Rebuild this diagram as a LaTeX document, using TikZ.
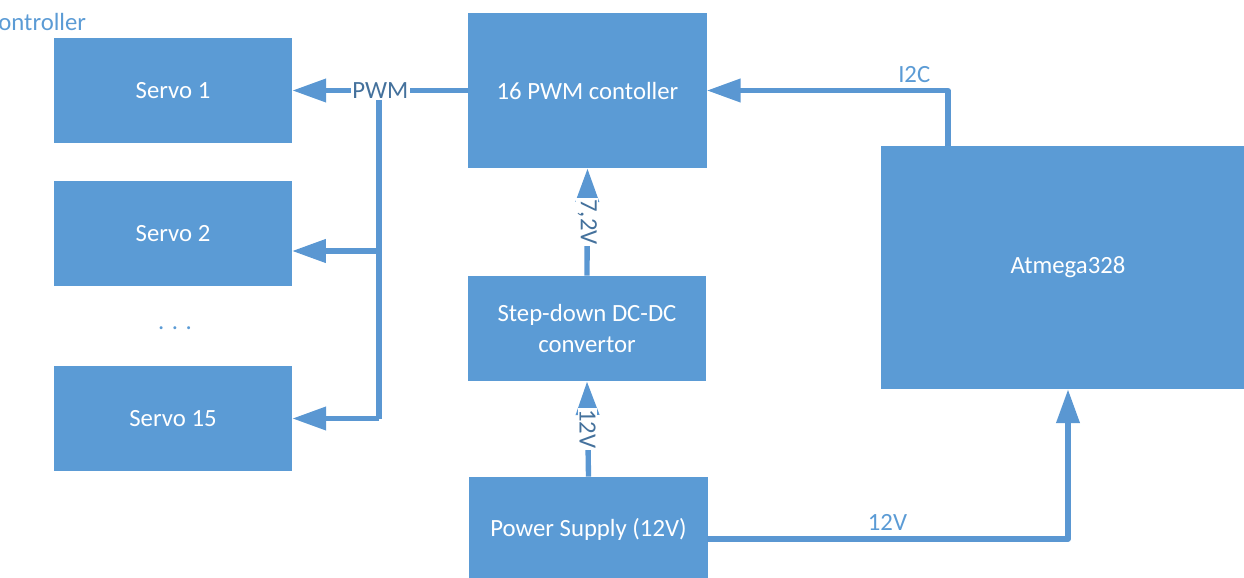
\documentclass[tikz,border=0pt]{standalone}
\usepackage{fontspec}
\setmainfont{Carlito}
\usetikzlibrary{arrows.meta}
\definecolor{boxblue}{HTML}{5B9BD5}
\definecolor{lineblue}{HTML}{5A97D2}
\definecolor{darkblue}{HTML}{44719C}
\tikzset{
  box/.style={fill=boxblue, text=white, align=center, inner sep=0pt, minimum width=5.95cm, minimum height=2.625cm, font=\fontsize{17.6}{22}\selectfont},
  kservo/.style={box}, kctrl/.style={box, minimum height=3.875cm},
  kpower/.style={box}, kmcu/.style={box, minimum width=9.35cm, minimum height=6.075cm},
  flow/.style={-{Triangle[length=24pt, width=16pt]}, line width=3.8pt, draw=lineblue, line join=round},
  wire/.style={line width=3.8pt, draw=lineblue, line join=round},
  lbl/.style={font=\fontsize{17.6}{22}\selectfont, text=darkblue, fill=white, inner sep=1pt},
  vlbl/.style={lbl, rotate=-90},
  hlbl/.style={font=\fontsize{17.6}{22}\selectfont, text=boxblue, inner sep=4pt},
}
\begin{document}
\begin{tikzpicture}[x=0.025cm, y=-0.025cm]
    \useasboundingbox (0,0) rectangle (1244,578);
    \node[hlbl, anchor=east] (title) at (92,22) {controller};
    \node[kservo] (servo1) at (173,90.5) {Servo 1};
    \node[kservo] (servo2) at (173,233.5) {Servo 2};
    \node[hlbl] (dots) at (175,328) {. . .};
    \node[kservo] (servo15) at (173,418.5) {Servo 15};
    \node[kctrl] (pwm) at (587.5,90.5) {16 PWM contoller};
    \node[kpower] (stepdown) at (587,328.5) {Step-down DC-DC\\convertor};
    \node[kpower] (power) at (588.5,529.5) {Power Supply (12V)};
    \node[kmcu] (atmega) at (1068,267.5) {Atmega328};
    \coordinate (branch) at (379,100);
    \coordinate (s2in) at (292,251);
    \coordinate (pwrout) at (707,539);
    \coordinate (i2cout) at (948,146);
    \draw[flow] (pwm.west) -- node[lbl]{PWM} (servo1.east);
    \draw[wire] (branch) -- (branch |- servo15.east);
    \draw[flow] (branch |- s2in) -- (s2in);
    \draw[flow] (branch |- servo15.east) -- (servo15.east);
    \draw[flow] (stepdown.north) -- node[vlbl]{7,2V} (pwm.south);
    \draw[flow] (power.north) -- node[vlbl]{12V} (stepdown.south);
    \draw[flow] (pwrout) -| (atmega.south) node[pos=0.25, hlbl, above]{12V};
    \draw[flow] (i2cout) |- (pwm.east) node[pos=0.57, hlbl, above]{I2C};
\end{tikzpicture}
\end{document}
